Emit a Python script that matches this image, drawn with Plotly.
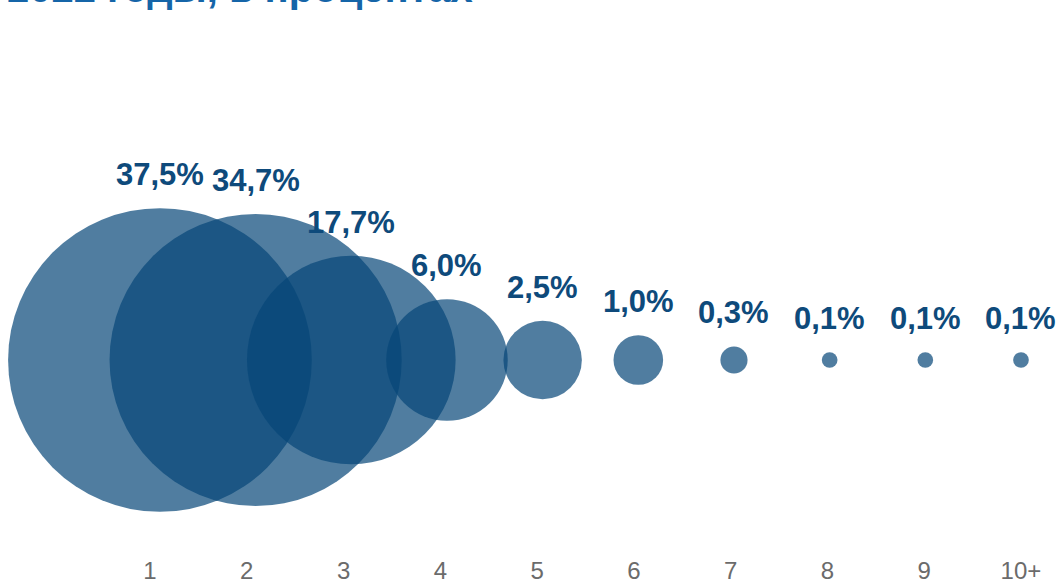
import math
import plotly.graph_objects as go

categories = ["1", "2", "3", "4", "5", "6", "7", "8", "9", "10+"]
values = [37.5, 34.7, 17.7, 6.0, 2.5, 1.0, 0.3, 0.1, 0.1, 0.1]
labels = ["37,5%", "34,7%", "17,7%", "6,0%", "2,5%", "1,0%", "0,3%", "0,1%", "0,1%", "0,1%"]
title_text = "2022 годы, в процентах"

idx = list(range(len(categories)))
SIZEREF = 1 / 1230.0
# rendered bubble radius (px) for a value, matching plotly's area sizing
def radius(v):
    return 24.8 * math.sqrt(v)

fig = go.Figure()
fig.add_trace(go.Scatter(
    x=idx, y=[0] * len(idx),
    mode="markers",
    marker=dict(size=values, sizemode="area", sizeref=SIZEREF,
                color="rgb(5,70,120)", opacity=0.7, line=dict(width=0)),
    cliponaxis=False, hoverinfo="skip", showlegend=False,
))
# invisible trace on the label axis
fig.add_trace(go.Scatter(
    x=idx, y=[0] * len(idx), xaxis="x2", mode="markers",
    marker=dict(size=1, opacity=0), hoverinfo="skip", showlegend=False,
))

annotations = [dict(
    text=title_text, xref="paper", yref="paper", x=0, y=1,
    xanchor="left", yanchor="bottom", xshift=5, yshift=-12, showarrow=False,
    font=dict(family="Liberation Sans, Arial, sans-serif", size=40, color="#1565A8", weight="bold"),
)]
for i, v, lab in zip(idx, values, labels):
    annotations.append(dict(
        text=lab, x=i, y=0, xref="x", yref="y", xanchor="center", yanchor="bottom",
        yshift=radius(v) + 14, showarrow=False,
        font=dict(family="Liberation Sans, Arial, sans-serif", size=31, color="#0E4A7B", weight="bold"),
    ))

fig.update_layout(
    width=1056, height=583,
    margin=dict(l=0, r=0, t=0, b=29),
    paper_bgcolor="white", plot_bgcolor="white",
    xaxis=dict(range=[-1.672, 9.366], showticklabels=False, showgrid=False,
               zeroline=False, showline=False, ticks=""),
    xaxis2=dict(range=[-1.55, 9.362], overlaying="x", side="bottom",
                tickmode="array", tickvals=idx, ticktext=categories,
                tickfont=dict(family="Liberation Sans, Arial, sans-serif", size=24, color="#6b6b6b"),
                showgrid=False, zeroline=False, showline=False, ticks=""),
    yaxis=dict(range=[-194, 360], visible=False, showgrid=False, zeroline=False),
    annotations=annotations,
)

fig.write_html("out.html", config={"displayModeBar": False},
               post_script="document.body.style.margin='0';document.body.style.padding='0';")
